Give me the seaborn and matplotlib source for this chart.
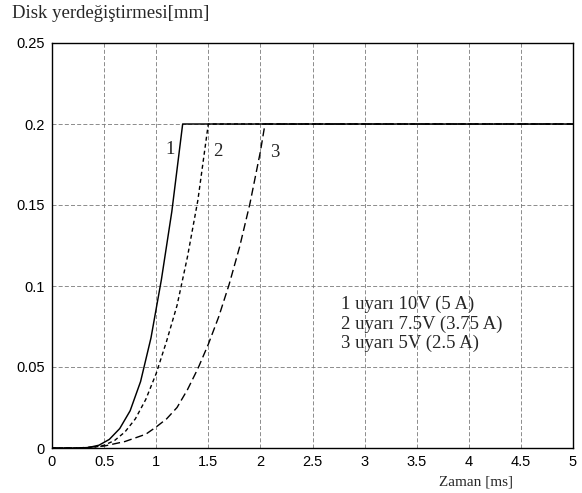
import matplotlib
matplotlib.use("Agg")
import matplotlib.pyplot as plt
import seaborn as sns
import pandas as pd

# Data
x1 = [0, 0.25, 0.35, 0.45, 0.55, 0.65, 0.75, 0.85, 0.95, 1.05, 1.15, 1.254, 5]
y1 = [0, 0, 0.0003, 0.0017, 0.0053, 0.012, 0.023, 0.041, 0.068, 0.104, 0.146, 0.2, 0.2]

x2 = [0, 0.25, 0.4, 0.5, 0.6, 0.7, 0.8, 0.9, 1.0, 1.1, 1.2, 1.3, 1.4, 1.5, 5]
y2 = [0, 0, 0.0004, 0.0017, 0.0046, 0.0099, 0.018, 0.030, 0.046, 0.066, 0.088, 0.118, 0.153, 0.2, 0.2]

x3 = [0, 0.25, 0.5, 0.7, 0.9, 1.0, 1.1, 1.2, 1.3, 1.4, 1.5, 1.6, 1.7, 1.8, 1.9, 2.0, 2.044, 5]
y3 = [0, 0, 0.0012, 0.004, 0.0085, 0.013, 0.018, 0.025, 0.036, 0.049, 0.064, 0.081, 0.101, 0.124, 0.151, 0.183, 0.2, 0.2]

curve_labels = ["1", "2", "3"]
legend_lines = ["1 uyarı 10V (5 A)", "2 uyarı 7.5V (3.75 A)", "3 uyarı 5V (2.5 A)"]
xticks = [0, 0.5, 1, 1.5, 2, 2.5, 3, 3.5, 4, 4.5, 5]
xticklabels = ["0", "0.5", "1", "1.5", "2", "2.5", "3", "3.5", "4", "4.5", "5"]
yticks = [0, 0.05, 0.1, 0.15, 0.2, 0.25]
yticklabels = ["0", "0.05", "0.1", "0.15", "0.2", "0.25"]
title = "Disk yerdeğiştirmesi[mm]"
xlabel = "Zaman [ms]"

sns.set_style("white")
plt.rcParams['font.family'] = ['Liberation Sans', 'DejaVu Sans']

fig = plt.figure(figsize=(5.82, 4.93), dpi=100)
ax = fig.add_axes([52/582, 45/493, (573-52)/582, (448-43)/493])

df1 = pd.DataFrame({"x": x1, "y": y1})
df2 = pd.DataFrame({"x": x2, "y": y2})
df3 = pd.DataFrame({"x": x3, "y": y3})

lw = 1.0
sns.lineplot(data=df3, x="x", y="y", ax=ax, color="black", lw=lw,
             estimator=None, sort=False)
ax.lines[-1].set_dashes((5.8, 2.9))
sns.lineplot(data=df2, x="x", y="y", ax=ax, color="black", lw=lw,
             estimator=None, sort=False)
ax.lines[-1].set_dashes((2.9, 2.2))
sns.lineplot(data=df1, x="x", y="y", ax=ax, color="black", lw=lw,
             estimator=None, sort=False)
# flat segment appears heavier in the reference (three overlapping lines)
ax.lines[-1].set_linewidth(1.05)

ax.set_xlim(0, 5)
ax.set_ylim(0, 0.25)
ax.set_xticks(xticks)
ax.set_xticklabels(xticklabels)
ax.set_yticks(yticks)
ax.set_yticklabels(yticklabels)
ax.set_xlabel("")
ax.set_ylabel("")
ax.tick_params(direction="in", length=4, width=0.8, labelsize=10.5, pad=5, colors="black")

ax.grid(True, color="#7a7a7a", linestyle=(0, (4.8, 2.6)), linewidth=0.6)
for s in ax.spines.values():
    s.set_visible(True)
    s.set_color("black")
    s.set_linewidth(1.0)

serif = ['Liberation Serif', 'DejaVu Serif']
label_pos = [(1.135, 0.184), (1.596, 0.183), (2.138, 0.1825)]
for lab, (lx, ly) in zip(curve_labels, label_pos):
    ax.text(lx, ly, lab, family=serif, fontsize=13.5, ha="center", va="center")

leg_y = [0.0885, 0.0763, 0.0648]
for txt, ly in zip(legend_lines, leg_y):
    ax.text(2.77, ly, txt, family=serif, fontsize=13.5, ha="left", va="center")

fig.text(12/582, 1 - 14/493, title, family=serif, fontsize=13.5, ha="left", va="center")
fig.text(439/582, 1 - 482/493, xlabel, family=serif, fontsize=11, ha="left", va="center")

fig.savefig("out.png", dpi=100, facecolor="white")
